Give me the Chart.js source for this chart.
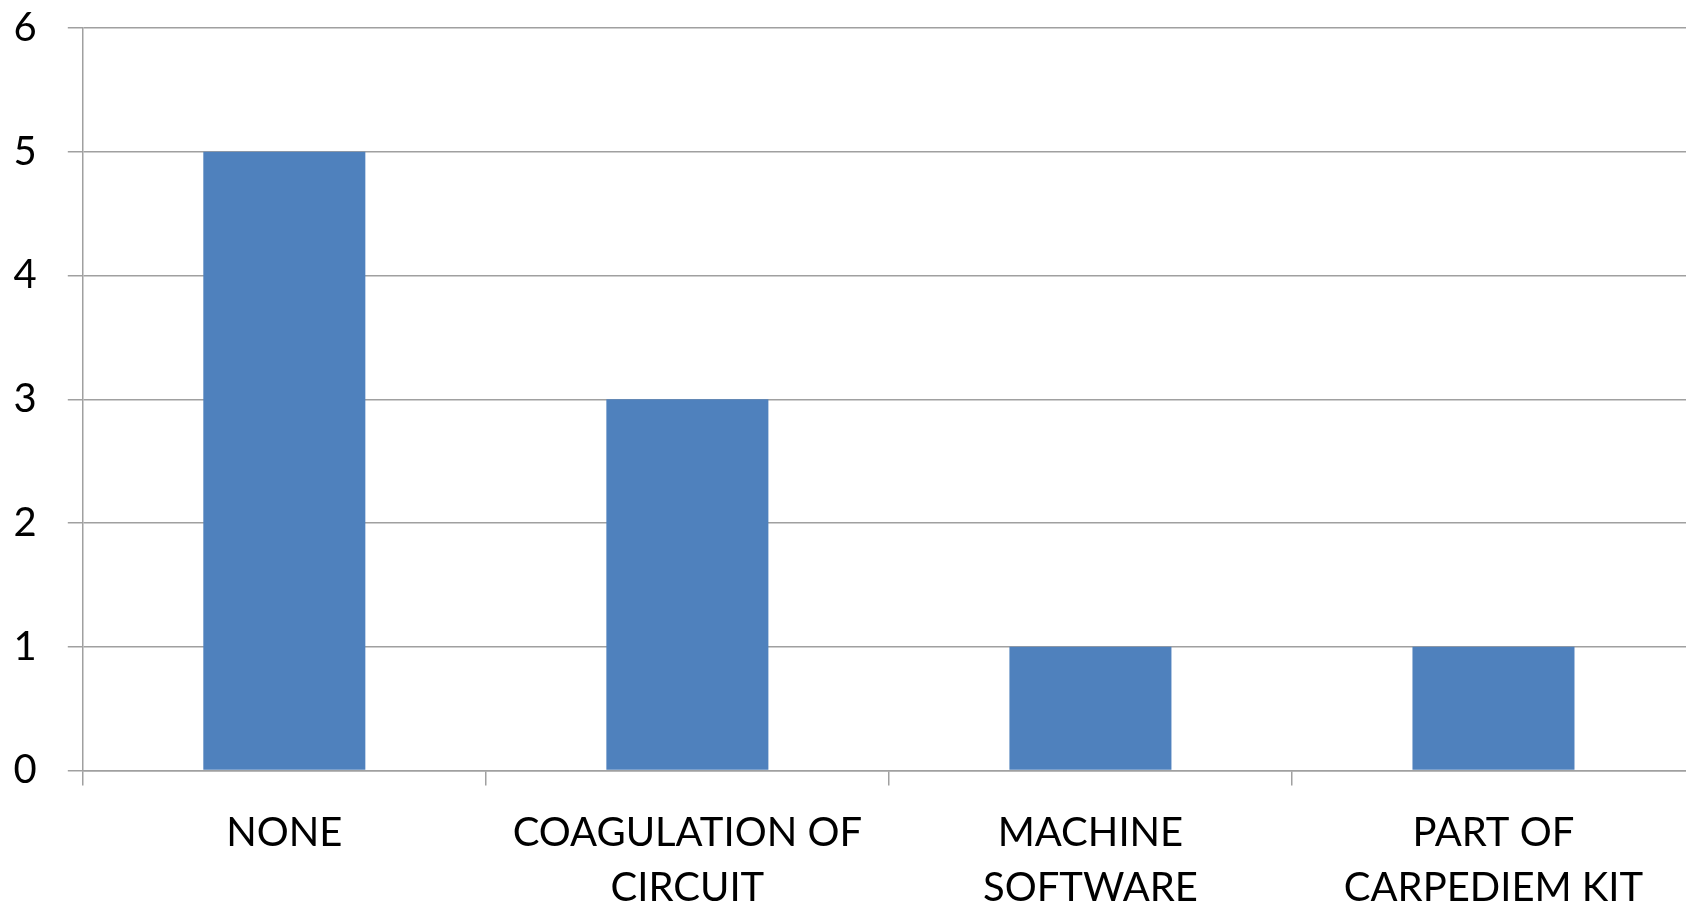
<!DOCTYPE html>
<html>
<head>
<meta charset="utf-8">
<script src="https://cdn.jsdelivr.net/npm/chart.js@4.4.1/dist/chart.umd.min.js"></script>
<style>
  html, body { margin: 0; padding: 0; background: #ffffff; overflow: hidden; }
  #wrap { position: relative; width: 1700px; height: 910px; }
</style>
</head>
<body>
<div id="wrap"><canvas id="chart" width="1700" height="910"></canvas></div>
<script>
// Categories (each label split into its wrapped lines)
const categories = [
  ['NONE'],
  ['COAGULATION OF', 'CIRCUIT'],
  ['MACHINE', 'SOFTWARE'],
  ['PART OF', 'CARPEDIEM KIT']
];
// Counts per category
const counts = [5, 3, 1, 1];
// Value axis ticks
const yTicks = [0, 1, 2, 3, 4, 5, 6];

const FONT = { family: 'Lato, "Open Sans", sans-serif', size: 40, lineHeight: 1.375 };
const GRID = '#a0a0a0';

new Chart(document.getElementById('chart'), {
  type: 'bar',
  data: {
    labels: categories,
    datasets: [{
      data: counts,
      backgroundColor: '#4f81bd',
      borderWidth: 0,
      categoryPercentage: 1,
      barPercentage: 0.402
    }]
  },
  options: {
    responsive: false,
    animation: false,
    layout: { padding: { top: 28, right: 5, bottom: 0, left: 0 } },
    plugins: { legend: { display: false }, tooltip: { enabled: false } },
    scales: {
      x: {
        offset: true,
        grid: {
          offset: true,
          drawOnChartArea: false,
          drawTicks: true,
          tickLength: 15,
          tickColor: GRID,
          lineWidth: 1.5
        },
        border: { color: GRID, width: 1.5 },
        ticks: {
          color: '#000000',
          font: FONT,
          padding: 20,
          maxRotation: 0,
          autoSkip: false
        },
        afterFit: (s) => { s.height = 910 - 770.5; }
      },
      y: {
        min: yTicks[0],
        max: yTicks[yTicks.length - 1],
        afterBuildTicks: (s) => { s.ticks = yTicks.map(v => ({ value: v })); },
        grid: {
          color: GRID,
          lineWidth: 1.5,
          tickLength: 15,
          tickColor: GRID
        },
        border: { color: GRID, width: 1.5 },
        ticks: {
          color: '#000000',
          font: { family: FONT.family, size: 40 },
          padding: 31
        },
        afterFit: (s) => { s.width = 82.8; s.paddingTop = 0; s.paddingBottom = 0; }
      }
    }
  }
});
</script>
</body>
</html>
